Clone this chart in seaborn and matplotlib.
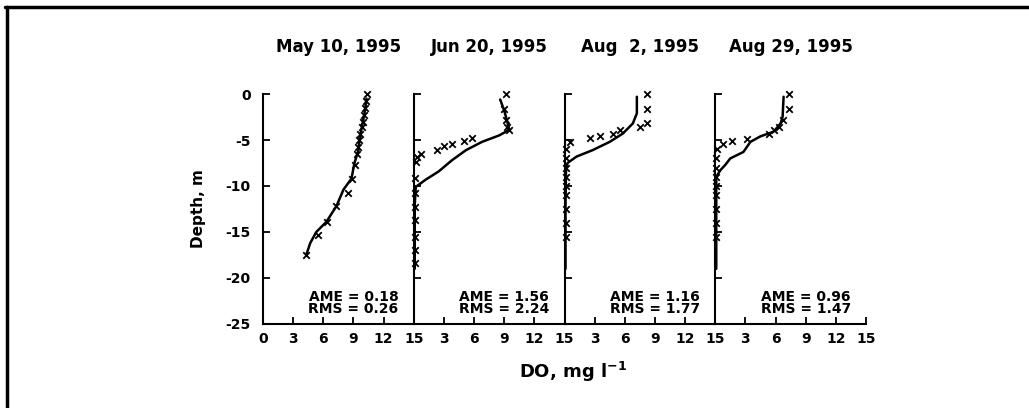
import matplotlib
matplotlib.use("Agg")
import matplotlib.pyplot as plt
from matplotlib.lines import Line2D
import seaborn as sns
import pandas as pd

sns.set_style("ticks")
plt.rcParams['font.family'] = ['DejaVu Sans']
plt.rcParams['font.weight'] = 'bold'
plt.rcParams['text.color'] = 'black'
plt.rcParams['axes.labelcolor'] = 'black'
plt.rcParams['axes.edgecolor'] = 'black'
plt.rcParams['xtick.color'] = 'black'
plt.rcParams['ytick.color'] = 'black'

titles = ["May 10, 1995", "Jun 20, 1995", "Aug  2, 1995", "Aug 29, 1995"]
ame = ["0.18", "1.56", "1.16", "0.96"]
rms = ["0.26", "2.24", "1.77", "1.47"]
x_ticks = [0, 3, 6, 9, 12, 15]
y_ticks = [0, -5, -10, -15, -20, -25]

# observed (x markers)
obs1_do = [10.3, 10.2, 10.1, 10.0, 9.9, 9.8, 9.7, 9.6, 9.5, 9.4, 9.2, 8.9, 8.5, 7.3, 6.4, 5.5, 4.3]
obs1_d = [0, -0.8, -1.5, -2.3, -3.0, -3.6, -4.3, -5.0, -5.8, -6.5, -7.7, -9.2, -10.8, -12.2, -13.9, -15.3, -17.5]
obs2_do = [9.2, 9.0, 9.2, 9.3, 9.5, 5.8, 5.0, 3.8, 3.0, 2.3, 0.7, 0.3, 0.2, 0.1, 0.1, 0.1, 0.1, 0.1, 0.1, 0.1]
obs2_d = [0, -1.6, -2.8, -3.6, -3.9, -4.8, -5.1, -5.4, -5.7, -6.1, -6.5, -6.8, -7.4, -9.1, -10.8, -12.3, -13.7, -15.5, -17.0, -18.4]
obs3_do = [8.2, 8.2, 8.2, 7.5, 5.5, 4.8, 3.5, 2.5, 0.5, 0.1, 0.1, 0.1, 0.1, 0.1, 0.1, 0.1, 0.1, 0.1]
obs3_d = [0, -1.6, -3.1, -3.6, -3.9, -4.3, -4.6, -4.8, -5.2, -6.0, -7.0, -8.0, -9.0, -10.0, -11.0, -12.5, -14.0, -15.5]
obs4_do = [7.3, 7.3, 6.7, 6.3, 5.8, 5.3, 3.2, 1.7, 0.8, 0.2, 0.1, 0.1, 0.1, 0.1, 0.1, 0.1, 0.1, 0.1]
obs4_d = [0, -1.6, -2.8, -3.6, -3.9, -4.3, -4.9, -5.1, -5.4, -6.0, -7.0, -8.0, -9.0, -10.0, -11.0, -12.5, -14.0, -15.5]

# model (line)
mod1_do = [10.3, 10.1, 9.8, 9.6, 9.5, 9.1, 8.8, 8.0, 7.3, 6.3, 5.3, 4.7, 4.3]
mod1_d = [-0.5, -2.1, -3.8, -5.0, -6.1, -7.5, -9.2, -10.4, -12.2, -13.9, -15.0, -16.2, -17.5]
mod2_do = [8.6, 9.0, 9.3, 9.5, 8.5, 6.8, 5.2, 3.8, 2.5, 1.2, 0.2, 0.1, 0.1]
mod2_d = [-0.6, -1.8, -3.0, -3.9, -4.5, -5.2, -6.1, -7.2, -8.4, -9.3, -10.1, -12.0, -19.0]
mod3_do = [7.2, 7.2, 6.8, 5.8, 4.5, 2.8, 1.2, 0.3, 0.15, 0.1, 0.1]
mod3_d = [-0.3, -2.1, -3.2, -4.3, -5.2, -6.1, -6.8, -7.5, -8.2, -12.0, -19.0]
mod4_do = [6.8, 6.7, 6.5, 5.8, 4.5, 3.5, 2.8, 1.5, 1.0, 0.5, 0.1, 0.1]
mod4_d = [-0.3, -2.5, -3.2, -4.1, -4.6, -5.2, -6.3, -7.0, -7.7, -8.3, -9.0, -19.0]

obs = [(obs1_do, obs1_d), (obs2_do, obs2_d), (obs3_do, obs3_d), (obs4_do, obs4_d)]
mod = [(mod1_do, mod1_d), (mod2_do, mod2_d), (mod3_do, mod3_d), (mod4_do, mod4_d)]

fig, axes = plt.subplots(1, 4, figsize=(10.29, 4.08), dpi=100, sharey=True)
fig.subplots_adjust(left=0.2556, right=0.8416, bottom=0.2059, top=0.7696, wspace=0)

for i, ax in enumerate(axes):
    mdf = pd.DataFrame({"do": mod[i][0], "depth": mod[i][1]})
    odf = pd.DataFrame({"do": obs[i][0], "depth": obs[i][1]})
    sns.lineplot(data=mdf, x="do", y="depth", sort=False, estimator=None,
                 color="black", linewidth=1.8, ax=ax)
    sns.scatterplot(data=odf, x="do", y="depth", marker="x", color="black",
                    s=22, linewidth=1.3, ax=ax, clip_on=False, zorder=5)
    ax.set_xlim(0, 15)
    ax.set_ylim(-25, 0)
    ax.set_xticks(x_ticks)
    if i == 0:
        ax.set_xticklabels([str(v) for v in x_ticks])
    else:
        ax.set_xticklabels([""] + [str(v) for v in x_ticks[1:]])
    ax.set_yticks(y_ticks)
    ax.set_yticklabels([str(v) for v in y_ticks])
    ax.tick_params(axis="both", direction="in", length=5, width=1.3,
                   labelsize=10, colors="black")
    ax.tick_params(axis="x", pad=6)
    ax.tick_params(axis="y", pad=9)
    if i > 0:
        ax.tick_params(axis="y", labelleft=False)
    for lab in ax.get_xticklabels() + ax.get_yticklabels():
        lab.set_fontweight("bold")
    ax.spines["top"].set_visible(False)
    ax.spines["right"].set_visible(False)
    ax.spines["left"].set_linewidth(1.5)
    ax.spines["bottom"].set_linewidth(1.5)
    ax.spines["left"].set_color("black")
    ax.spines["bottom"].set_color("black")
    ax.set_xlabel("")
    ax.set_ylabel("")
    ax.set_title(titles[i], fontsize=12, fontweight="bold", pad=30, color="black")
    ax.text(9.0, -22.1, "AME = " + ame[i], ha="center", va="center",
            fontsize=10, fontweight="bold", color="black")
    ax.text(9.0, -23.4, "RMS = " + rms[i], ha="center", va="center",
            fontsize=10, fontweight="bold", color="black")

fig.text(199 / 1029, 1 - 209 / 408, "Depth, m", rotation=90, ha="center",
         va="center", fontsize=11, fontweight="bold", color="black")
fig.text(573 / 1029, 1 - 372 / 408, "DO, mg l$^{-1}$", ha="center",
         va="center", fontsize=13, fontweight="bold", color="black")

# page frame (top and left edges)
fig.add_artist(Line2D([5 / 1029, 1.0], [1 - 7 / 408, 1 - 7 / 408],
                      transform=fig.transFigure, color="black", linewidth=2.5))
fig.add_artist(Line2D([7 / 1029, 7 / 1029], [1 - 7 / 408, 0.0],
                      transform=fig.transFigure, color="black", linewidth=2.5))

fig.savefig("out.png", dpi=100)
